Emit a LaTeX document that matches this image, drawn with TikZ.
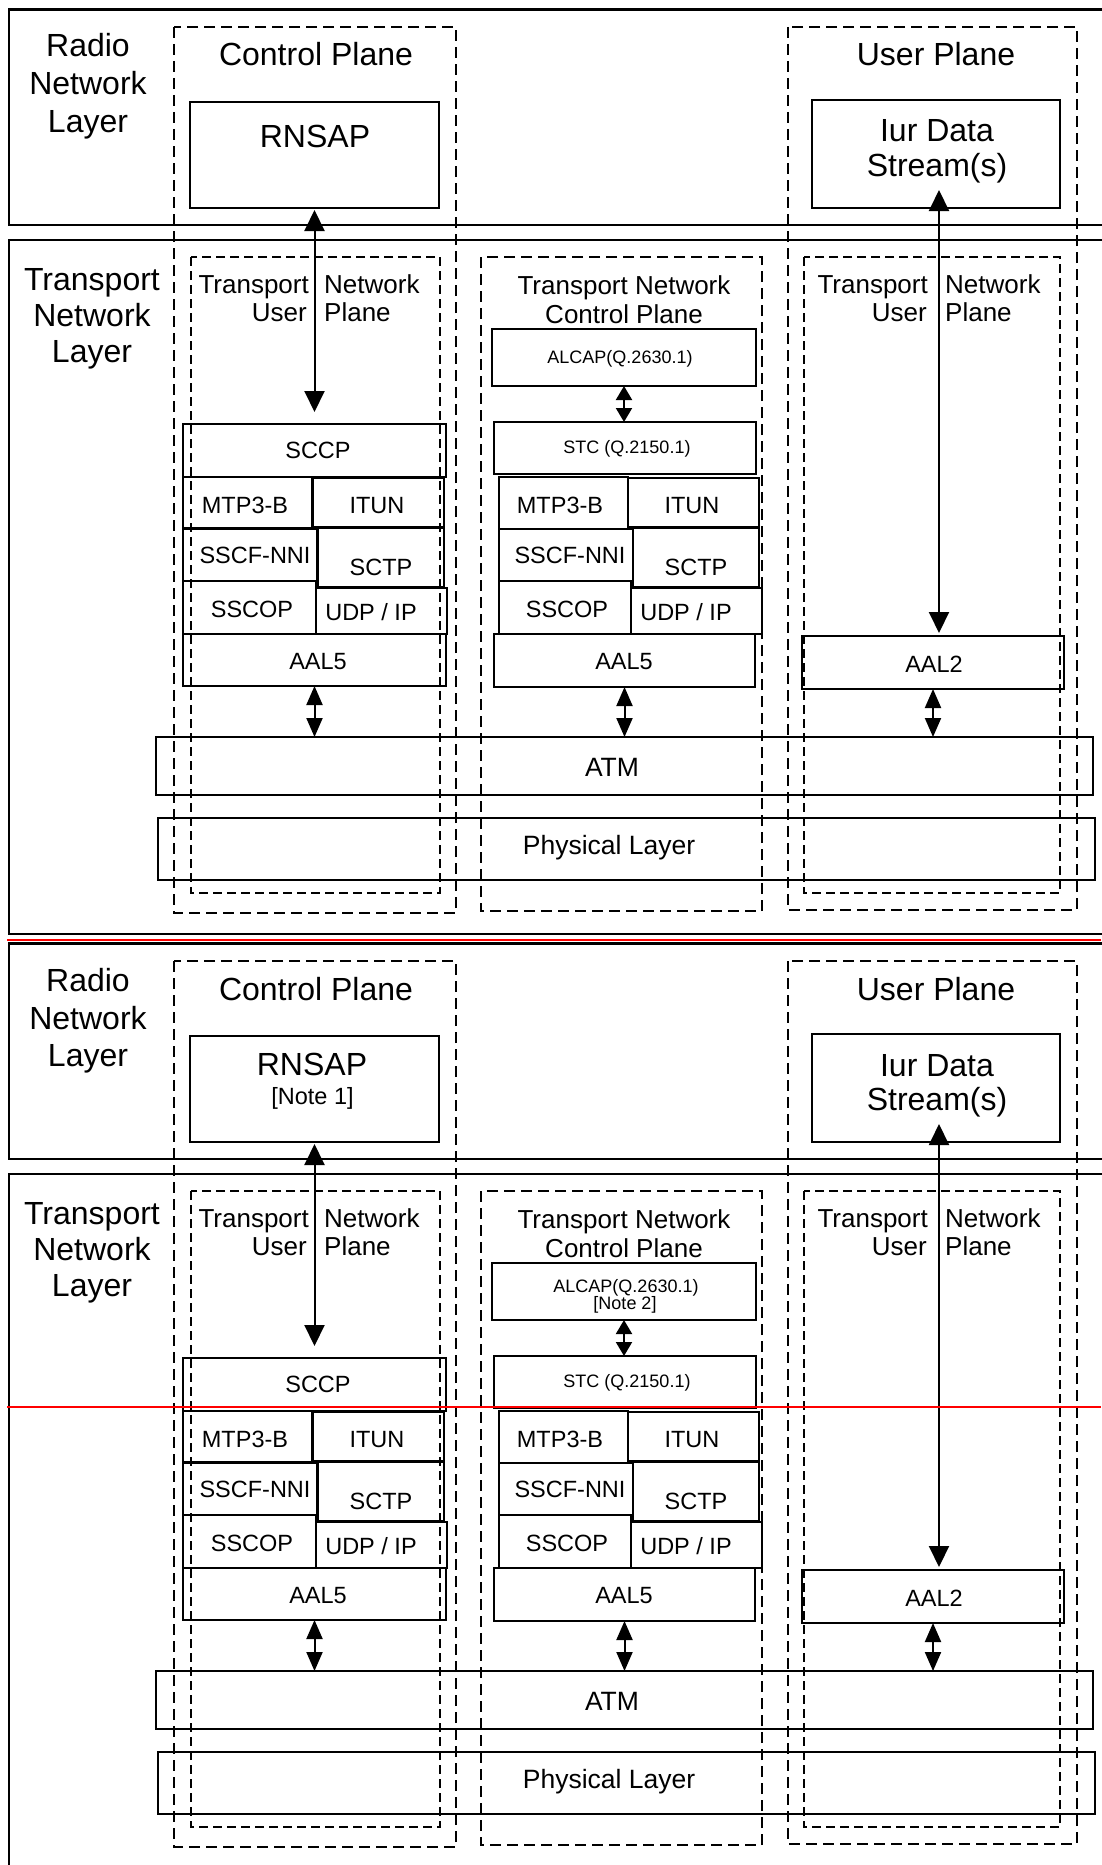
\documentclass[tikz,border=0pt]{standalone}
\usepackage{fontspec}
\setmainfont{Liberation Sans}
\usetikzlibrary{arrows.meta}
\tikzset{
 frame/.style={line width=2.5pt},
 dashout/.style={line width=2.6pt, dash pattern=on 11pt off 6pt},
 dashin/.style={line width=1.8pt, dash pattern=on 9pt off 5pt},
 stk/.style={draw, line width=1.9pt, inner sep=0pt, outer sep=0pt, rectangle},
 fbig/.style={font=\fontsize{32}{38}\selectfont, inner sep=0pt},
 fmid/.style={font=\fontsize{26}{31}\selectfont, inner sep=0pt},
 fsml/.style={font=\fontsize{23.5}{28}\selectfont, inner sep=0pt, text height=16.8pt, text depth=0pt},
 ftiny/.style={font=\fontsize{18}{21}\selectfont, inner sep=0pt, text height=12.9pt, text depth=0pt},
 flay/.style={font=\fontsize{26.5}{31}\selectfont, inner sep=0pt, text height=19pt, text depth=0pt},
 bigarr/.style={line width=2pt, {Triangle[length=21pt,width=20pt]}-{Triangle[length=21pt,width=20pt]}},
 smallarr/.style={line width=2pt, {Triangle[length=19pt,width=16pt]}-{Triangle[length=19pt,width=16pt]}},
 tinyarr/.style={line width=2pt, {Triangle[length=14pt,width=16pt]}-{Triangle[length=14pt,width=16pt]}},
 redline/.style={draw=red, line width=2.5pt},
}
\newcommand\bx[6][stk]{\node[#1, minimum width={#5-#3}, minimum height={#6-#4}] (#2) at ({(#3+#5)/2},{(#4+#6)/2}) {};}
\newcommand\drawcopy[2]{%
\begin{scope}[shift={(0,#2)}]
 \draw[frame] (1110,9.5) -- (9,9.5) -- (9,225) -- (1110,225);
 \draw[frame] (1110,240) -- (9,240) -- (9,934) -- (1110,934);
 \draw[dashout] (174,27) rectangle (456,913);
 \draw[dashout] (788,27) rectangle (1077,910);
 \draw[dashout] (481,257) rectangle (762,911);
 \draw[dashin] (191,257) rectangle (440,893);
 \draw[dashin] (804,257) rectangle (1060,893);
 % layer titles
 \node[fbig, anchor=base] (#1rnlA) at (88,57) {Radio};
 \node[fbig, anchor=base] (#1rnlB) at (88,95) {Network};
 \node[fbig, anchor=base] (#1rnlC) at (88,132) {Layer};
 \node[fbig, anchor=base] (#1tnlA) at (92,290) {Transport};
 \node[fbig, anchor=base] (#1tnlB) at (92,326) {Network};
 \node[fbig, anchor=base] (#1tnlC) at (92,362) {Layer};
 \node[fbig, anchor=base] (#1cp) at (316,66) {Control Plane};
 \node[fbig, anchor=base] (#1up) at (936,66) {User Plane};
 % plane sub-titles
 \node[fmid, anchor=base east] (#1luA) at (309,293) {Transport};
 \node[fmid, anchor=base east] (#1luB) at (307,321) {User};
 \node[fmid, anchor=base west] (#1luC) at (324,293) {Network};
 \node[fmid, anchor=base west] (#1luD) at (324,321) {Plane};
 \node[fmid, anchor=base] (#1tcA) at (624,294) {Transport Network};
 \node[fmid, anchor=base] (#1tcB) at (624,323) {Control Plane};
 \node[fmid, anchor=base east] (#1ruA) at (928,293) {Transport};
 \node[fmid, anchor=base east] (#1ruB) at (927,321) {User};
 \node[fmid, anchor=base west] (#1ruC) at (945,293) {Network};
 \node[fmid, anchor=base west] (#1ruD) at (945,321) {Plane};
 % radio network boxes
 \bx[stk, line width=1.5pt]{#1rnsap}{190}{102}{439}{208}
 \bx{#1iur}{812}{100}{1060}{208}
 \node[fbig, anchor=base] (#1iurA) at (937,142) {Iur Data};
 \node[fbig, anchor=base] (#1iurB) at (937,176) {Stream(s)};
 % left stack
 \bx{#1sccp}{183}{424}{446}{477}
 \bx{#1lmtp}{183}{477}{312}{528}
 \bx{#1litun}{313}{478}{444}{527}
 \bx{#1lsscf}{183}{529}{317}{581}
 \bx{#1lsctp}{318}{528}{444}{587}
 \bx{#1lsscop}{183}{581}{316}{634}
 \bx{#1ludp}{316}{588}{447}{634}
 \bx{#1laal}{183}{634}{446}{686}
 \node[fsml] (#1sccpT) at (318,450.5) {SCCP};
 \node[fsml] (#1lmtpT) at (245,505) {MTP3-B};
 \node[fsml] (#1litunT) at (377,505) {ITUN};
 \node[fsml] (#1lsscfT) at (255,555) {SSCF-NNI};
 \node[fsml] (#1lsctpT) at (381,567) {SCTP};
 \node[fsml] (#1lsscopT) at (252,609) {SSCOP};
 \node[fsml] (#1ludpT) at (371,612) {UDP / IP};
 \node[fsml] (#1laalT) at (318,661) {AAL5};
 % middle stack
 \bx{#1alcap}{492}{329}{756}{386}
 \bx{#1stc}{494}{422}{756}{474}
 \bx{#1mmtp}{499}{477}{628}{529}
 \bx{#1mitun}{628}{478}{759}{527}
 \bx{#1msscf}{499}{529}{633}{581}
 \bx{#1msctp}{633}{528}{759}{587}
 \bx{#1msscop}{499}{581}{631}{634}
 \bx{#1mudp}{631}{588}{762}{634}
 \bx{#1maal}{494}{634}{755}{687}
 \node[ftiny] (#1stcT) at (627,447) {STC (Q.2150.1)};
 \node[fsml] (#1mmtpT) at (560,505) {MTP3-B};
 \node[fsml] (#1mitunT) at (692,505) {ITUN};
 \node[fsml] (#1msscfT) at (570,555) {SSCF-NNI};
 \node[fsml] (#1msctpT) at (696,567) {SCTP};
 \node[fsml] (#1msscopT) at (567,609) {SSCOP};
 \node[fsml] (#1mudpT) at (686,612) {UDP / IP};
 \node[fsml] (#1maalT) at (624,661) {AAL5};
 % right stack
 \bx{#1aal2}{802}{636}{1064}{689}
 \node[fsml] (#1aal2T) at (934,664) {AAL2};
 % common layers
 \bx{#1atm}{156}{737}{1093}{795}
 \bx{#1phy}{158}{818}{1095}{880}
 \node[flay] (#1atmT) at (612,766.5) {ATM};
 \node[flay] (#1phyT) at (609,845) {Physical Layer};
 % connectors
 \draw[bigarr, shorten <=2pt, shorten >=12pt, xshift=2.5pt] (#1rnsap.south) -- (#1sccp.north);
 \draw[bigarr, shorten <=-18pt, shorten >=3pt] ([xshift=3pt]#1iur.south) -- ([xshift=6pt]#1aal2.north);
 \draw[tinyarr, xshift=-2pt] (#1alcap.south) -- (#1alcap.south |- #1stc.north);
 \draw[smallarr, xshift=1.5pt] (#1laal.south) -- (#1laal.south |- #1atm.north);
 \draw[smallarr] (#1maal.south) -- (#1maal.south |- #1atm.north);
 \draw[smallarr, xshift=7pt] (#1aal2.south) -- (#1aal2.south |- #1atm.north);
\end{scope}}
\begin{document}
\begin{tikzpicture}[x=1pt,y=-1pt]
\useasboundingbox (0,0) rectangle (1101,1865);
\drawcopy{T}{0}
\drawcopy{B}{934}
% texts that differ between the two copies
\node[fbig, anchor=base] (TrnsapT) at (315,147) {RNSAP};
\node[ftiny] (TalcapT) at (620,357) {ALCAP(Q.2630.1)};
\node[fbig, anchor=base] (BrnsapT) at (312,141+934) {RNSAP};
\node[fsml, anchor=base] (BnoteA) at (312.5,170+934) {[Note 1]};
\node[ftiny, anchor=base] (BalcapT) at (626,358+934) {ALCAP(Q.2630.1)};
\node[ftiny, anchor=base] (BnoteB) at (625,375+934) {[Note 2]};
% red marker lines
\draw[redline] (7,940) -- (1101,940);
\draw[redline, line width=2pt] (7,1407) -- (1101,1407);
\end{tikzpicture}
\end{document}
